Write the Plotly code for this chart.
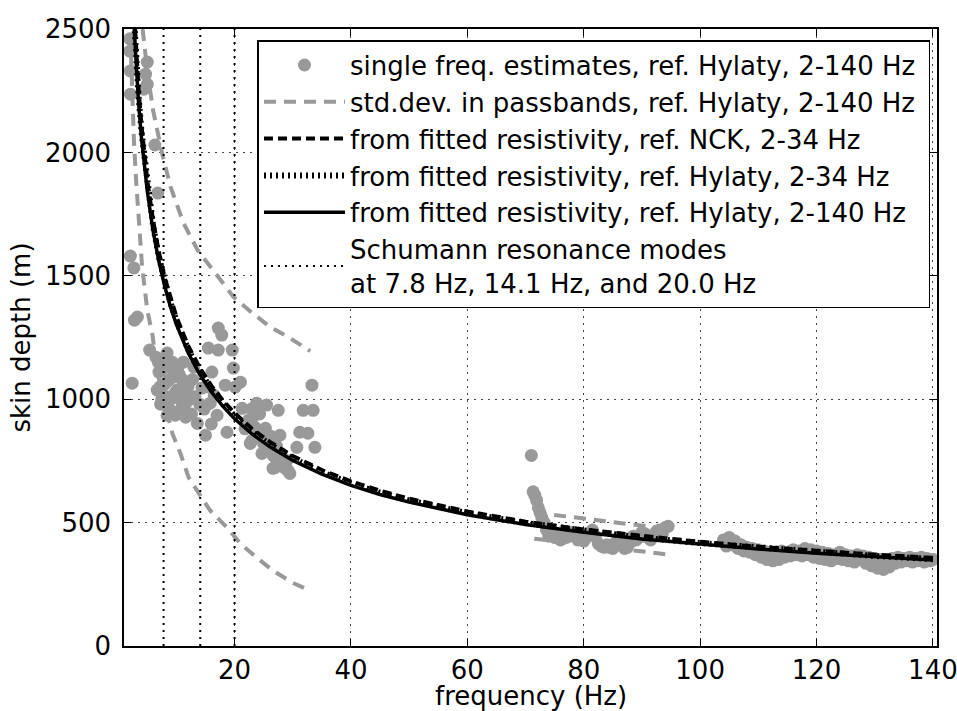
import plotly.graph_objects as go

# ---------------- data ----------------
# single-frequency estimates, 2-34 Hz
f_low = [2.0, 2.1, 2.1, 5.0, 4.7, 5.0, 4.4, 6.3, 6.8, 2.1, 2.7, 3.3, 2.8, 5.4, 2.4,
         8.4, 9.3, 11.2, 7.0, 6.7, 8.7, 10.1, 11.6, 8.4, 9.8, 11.6, 13.6, 15.0, 15.5,
         17.2, 17.8, 17.2, 19.6, 19.8, 16.1, 18.4, 21.0, 14.4, 15.8, 17.0, 18.7, 21.3,
         22.4, 23.8, 25.5, 27.5, 23.5, 24.9, 27.8, 23.0, 24.7, 26.6, 27.0, 29.5, 31.2,
         32.6, 30.7, 33.8, 31.8, 33.5, 33.3, 29.0, 28.7, 20.1, 26.6, 29.2, 27.0, 25.3,
         22.7, 7.5, 8.0, 9.0, 10.5, 12.3, 12.8, 10.8, 7.8, 6.5, 13.0, 14.0, 16.5, 12.0,
         9.5, 2.0,
         7.2, 7.6, 8.2, 8.8, 9.0, 9.6, 10.2, 10.6, 11.0, 11.4, 12.6, 13.2, 14.8, 15.2,
         16.0, 6.9, 7.3,
         22.0, 23.2, 24.0, 25.0, 25.8, 26.2, 27.2, 28.0, 28.3, 24.3, 21.8, 22.9]
d_low = [2410, 2330, 2236, 2366, 2317, 2276, 2256, 2030, 1835, 1580, 1532, 1333, 1320, 1199, 1065,
         1187, 1150, 1150, 1110, 1037, 1077, 1037, 984, 935, 935, 927, 902, 854, 1207,
         1288, 1260, 1199, 1199, 1126, 1110, 1057, 1069, 1045, 984, 935, 866, 963,
         915, 984, 976, 955, 886, 854, 854, 833, 780, 772, 724, 699, 866,
         862, 805, 805, 955, 955, 1057, 752, 720, 1049, 720, 711, 764, 882,
         821, 1000, 1060, 1000, 1100, 1000, 1080, 960, 1150, 1170, 1130, 980, 1015, 1050,
         1090, 2460,
         1050, 1120, 1010, 960, 1130, 1020, 1120, 1000, 1080, 1040, 940, 1010, 960, 1050,
         900, 1150, 980,
         900, 930, 860, 820, 800, 850, 810, 780, 740, 940, 880, 960]

# single-frequency estimates, 71-95 Hz
f_mid = [71.0, 71.3, 71.6, 71.9, 72.2, 72.5, 72.8, 73.2, 73.6, 74.0, 74.5, 75.0, 75.5,
         76.0, 76.5, 77.0, 77.5, 78.0, 78.5, 79.0, 79.5, 80.0, 80.5, 81.0, 81.5, 82.0,
         82.5, 83.0, 83.5, 84.0, 84.5, 85.0, 85.5, 86.0, 86.5, 87.0, 87.5, 88.0, 88.5,
         89.0, 89.5, 90.0, 90.5, 91.0, 91.5, 92.0, 92.5, 93.0, 93.5, 94.0, 94.5]
d_mid = [772, 625, 610, 590, 560, 540, 520, 500, 470, 445, 455, 440, 450,
         430, 455, 440, 445, 460, 445, 430, 440, 425, 440, 455, 470, 445,
         415, 405, 400, 410, 400, 395, 420, 440, 415, 395, 400, 420, 445,
         430, 440, 460, 455, 440, 430, 445, 465, 470, 455, 480, 485]

# single-frequency estimates, 104-140 Hz
f_high = [104.0, 104.5, 105.0, 105.5, 106.0, 106.5, 107.0, 107.5, 108.0, 108.5, 109.0,
          109.5, 110.0, 110.5, 111.0, 111.5, 112.0, 112.5, 113.0, 113.5, 114.0, 114.5,
          115.0, 115.5, 116.0, 116.5, 117.0, 117.5, 118.0, 118.5, 119.0, 119.5, 120.0,
          120.5, 121.0, 121.5, 122.0, 122.5, 123.0, 123.5, 124.0, 124.5, 125.0, 125.5,
          126.0, 126.5, 127.0, 127.5, 128.0, 128.5, 129.0, 129.5, 130.0, 130.5, 131.0,
          131.5, 132.0, 132.5, 133.0, 133.5, 134.0, 134.5, 135.0, 135.5, 136.0, 136.5,
          137.0, 137.5, 138.0, 138.5, 139.0, 139.5, 140.0]
d_high = [430, 405, 440, 410, 425, 395, 410, 385, 400, 380, 395,
          370, 390, 360, 385, 350, 380, 345, 375, 350, 385, 360,
          380, 365, 390, 370, 385, 365, 395, 370, 390, 360, 385,
          355, 380, 350, 375, 345, 370, 355, 380, 350, 370, 345,
          365, 340, 370, 350, 365, 335, 360, 325, 355, 315, 350,
          310, 345, 320, 355, 335, 360, 340, 355, 345, 360, 340,
          355, 345, 360, 340, 355, 345, 350]

# std.dev. curves in passbands
f_std_up = [4.2, 5.0, 6.0, 7.6, 9.0, 11.2, 13.6, 15.8, 19.8, 23.0, 26.1, 29.5, 33.0]
d_std_up = [2500, 2330, 2170, 1990, 1860, 1715, 1606, 1537, 1415, 1350, 1293, 1248, 1195]
f_std_lo = [2.1, 2.4, 2.7, 3.1, 3.5, 4.1, 5.0, 5.9, 6.7, 9.3, 10.7, 12.1, 14.1, 15.8,
            18.7, 21.0, 23.8, 26.6, 30.0, 33.0]
d_std_lo = [2480, 2250, 2050, 1880, 1740, 1540, 1361, 1260, 1110, 862, 780, 683, 610, 549,
            480, 415, 358, 305, 256, 224]
f_std2_up = [71.5, 94.0]
d_std2_up = [541, 476]
f_std2_lo = [71.5, 94.0]
d_std2_lo = [435, 372]

# skin depth from fitted resistivity
f_fit = [2.5, 3, 3.5, 4, 5, 6, 7, 8, 9, 10, 12, 14, 16, 18, 20, 23, 26, 30, 35, 40,
         45, 50, 60, 70, 80, 90, 100, 110, 120, 130, 140]
d_nck = [2669, 2437, 2256, 2110, 1887, 1723, 1595, 1492, 1407, 1334, 1218, 1128, 1055,
         995, 944, 880, 828, 770, 713, 667, 629, 597, 545, 504, 472, 445, 422, 402, 385,
         370, 357]
d_hyl34 = [2637, 2408, 2229, 2085, 1865, 1702, 1576, 1475, 1390, 1319, 1203, 1114, 1042,
           983, 932, 869, 818, 761, 704, 659, 621, 590, 538, 498, 467, 439, 417, 398, 381,
           365, 352]
d_hyl140 = [2606, 2379, 2202, 2060, 1843, 1682, 1557, 1457, 1373, 1303, 1189, 1101, 1030,
            971, 921, 859, 808, 752, 696, 651, 614, 583, 532, 492, 461, 434, 412, 393, 376,
            361, 348]

schumann = [7.8, 14.1, 20.0]

x_ticks = [20, 40, 60, 80, 100, 120, 140]
y_ticks = [0, 500, 1000, 1500, 2000, 2500]

# ---------------- figure ----------------
GRAY = "#999999"
FONT = "DejaVu Sans"
NB = "\u00a0"  # a little extra room at the right of the legend

fig = go.Figure()

fig.add_trace(go.Scatter(
    x=f_low + f_mid + f_high, y=d_low + d_mid + d_high, mode="markers",
    marker=dict(color=GRAY, size=13, line=dict(width=0)),
    name="single freq. estimates, ref. Hylaty, 2-140 Hz" + NB))

std_line = dict(color=GRAY, width=4, dash="12px,8px")
fig.add_trace(go.Scatter(x=f_std_up, y=d_std_up, mode="lines", line=std_line,
                         name="std.dev. in passbands, ref. Hylaty, 2-140 Hz" + NB,
                         legendgroup="std"))
for fx, dy in [(f_std_lo, d_std_lo), (f_std2_up, d_std2_up), (f_std2_lo, d_std2_lo)]:
    fig.add_trace(go.Scatter(x=fx, y=dy, mode="lines", line=std_line,
                             showlegend=False, legendgroup="std"))

fig.add_trace(go.Scatter(x=f_fit, y=d_nck, mode="lines",
                         line=dict(color="black", width=4, dash="9px,5px"),
                         name="from fitted resistivity, ref. NCK, 2-34 Hz"))
fig.add_trace(go.Scatter(x=f_fit, y=d_hyl34, mode="lines",
                         line=dict(color="black", width=6, dash="2px,4px"),
                         name="from fitted resistivity, ref. Hylaty, 2-34 Hz"))
fig.add_trace(go.Scatter(x=f_fit, y=d_hyl140, mode="lines",
                         line=dict(color="black", width=3.5),
                         name="from fitted resistivity, ref. Hylaty, 2-140 Hz"))

for i, fs in enumerate(schumann):
    fig.add_trace(go.Scatter(
        x=[fs, fs], y=[y_ticks[0], y_ticks[-1]], mode="lines",
        line=dict(color="black", width=2, dash="2px,5px"),
        name="Schumann resonance modes<br>at 7.8 Hz, 14.1 Hz, and 20.0 Hz",
        legendgroup="schumann", showlegend=(i == 0)))

axis_common = dict(
    showline=True, linecolor="black", linewidth=1.5, mirror="allticks",
    ticks="inside", ticklen=7, tickwidth=1, tickcolor="black",
    showgrid=True, gridcolor="#444444", gridwidth=1, griddash="2px,5px",
    zeroline=False, automargin=False, ticklabeloverflow="allow",
    tickfont=dict(family=FONT, size=26, color="black"),
)

fig.update_layout(
    width=957, height=711,
    margin=dict(l=124, r=20, t=29, b=65),
    paper_bgcolor="white", plot_bgcolor="white",
    font=dict(family=FONT, size=26, color="black"),
    xaxis=dict(range=[1, 140.7], tickvals=x_ticks, **axis_common),
    yaxis=dict(range=[0, 2500], tickvals=y_ticks, ticklabelstandoff=6,
               title=dict(text="skin depth (m)", font=dict(family=FONT, size=26), standoff=7),
               **axis_common),
    legend=dict(x=0.992, y=0.982, xanchor="right", yanchor="top",
                bgcolor="white", bordercolor="black", borderwidth=1.5,
                font=dict(family=FONT, size=26, color="black"),
                itemwidth=81, tracegroupgap=0, traceorder="normal"),
    showlegend=True,
    annotations=[dict(text="frequency (Hz)", xref="paper", yref="paper",
                      x=0.5, y=0, xanchor="center", yanchor="middle", yshift=-50,
                      showarrow=False, font=dict(family=FONT, size=26, color="black"))],
)

# remove the page's default body margin so the 957x711 figure fills the window exactly
fig.write_html("out.html",
               config={"displayModeBar": False},
               post_script="document.body.style.margin='0';"
                           "document.body.style.overflow='hidden';")
